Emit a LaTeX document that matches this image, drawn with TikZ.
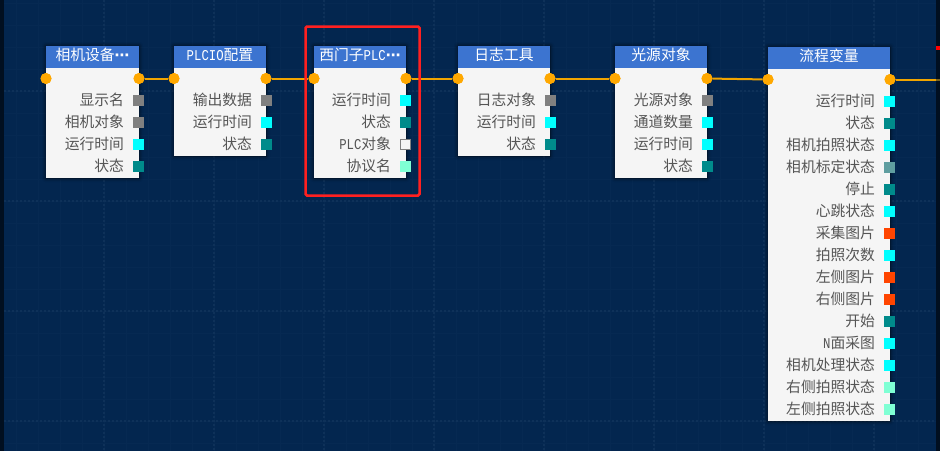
\documentclass[tikz,border=0pt]{standalone}
\usepackage{fontspec}
\setmainfont{Noto Sans CJK SC}
\newfontfamily\latf{Liberation Mono}[FakeStretch=0.82]
\newfontfamily\dotf{DejaVu Sans}[Scale=1.0]
\newcommand{\lat}[1]{{\latf\fontsize{15}{15}\selectfont #1}}
\newcommand{\dotc}{{\dotf\bfseries ⋯}}
\usetikzlibrary{shadows.blur,calc}
\definecolor{bgc}{HTML}{03264F}
\definecolor{gridc}{HTML}{0E3159}
\definecolor{gridm}{HTML}{062952}
\definecolor{hdr}{HTML}{3C74D0}
\definecolor{body}{HTML}{F5F5F5}
\definecolor{pin}{HTML}{FFA800}
\definecolor{wire}{HTML}{F0A400}
\definecolor{wiredim}{HTML}{7A6420}
\definecolor{txt}{HTML}{555555}
\definecolor{pgray}{HTML}{808080}
\definecolor{pcyan}{HTML}{00FFFF}
\definecolor{pteal}{HTML}{008B8B}
\definecolor{pcad}{HTML}{5F9EA0}
\definecolor{porange}{HTML}{FF4500}
\definecolor{paqua}{HTML}{7FFFD4}
\definecolor{frame}{HTML}{FF2020}
\tikzset{
  x=1pt,y=-1pt,
  bodybox/.style={fill=body,draw=none,blur shadow={shadow blur steps=6,shadow xshift=0pt,shadow yshift=0pt,shadow blur radius=4pt,shadow opacity=70}},
  hdrbox/.style={fill=hdr,draw=none},
  title/.style={text=white,font=\fontsize{14.8}{15}\selectfont,inner sep=0pt},
  lab/.style={text=txt,font=\fontsize{14.8}{15}\selectfont,inner sep=0pt,anchor=east},
  pinc/.style={circle,fill=pin,draw=none,minimum size=11pt,inner sep=0pt},
  port/.style={minimum size=11pt,inner sep=0pt,draw=none,fill=#1},
  wireline/.style={draw=wire,line width=2pt},
}
% #1 name, #2 left, #3 right, #4 top, #5 bottom, #6 title
\newcommand{\blk}[6]{%
  \path[bodybox] (#2,#4) rectangle (#3,#5);
  \path[hdrbox] (#2,#4) rectangle (#3,#4+22);
  \node[title,anchor=base] (#1t) at ({(#2+#3)/2},#4+14.5) {#6};
  \node[pinc] (#1i) at (#2,#4+32.5) {};
  \node[pinc] (#1o) at (#3,#4+32.5) {};
}
% #1 node name suffix, #2 right, #3 y, #4 colour, #5 text
\newcommand{\rowp}[5]{%
  \node[port=#4] (#1p) at (#2+0,#3) {};
  \node[lab,anchor=base east] (#1l) at (#2-14.3,#3+4.6) {#5};
}
\begin{document}
\begin{tikzpicture}
\useasboundingbox (0,0) rectangle (940,451);
\fill[bgc] (0,0) rectangle (940,451);
% grid
\foreach \gx in {16,38,...,940}
  \draw[gridm,line width=1pt] (\gx,0) -- (\gx,451);
\foreach \gy in {3,25,...,451}
  \draw[gridm,line width=1pt] (0,\gy) -- (940,\gy);
\foreach \gx in {104,214,324,434,544,654,764,874}
  \draw[gridc,line width=1.5pt,dash pattern=on 2pt off 2pt] (\gx,0) -- (\gx,451);
\foreach \gy in {91,201,311,421}
  \draw[gridc,line width=1.5pt,dash pattern=on 2pt off 2pt] (0,\gy) -- (940,\gy);
\fill[black!60!bgc] (0,0) rectangle (4,451);
\fill[black!60!bgc] (936,0) rectangle (940,451);
\coordinate (edgea) at (936,79.5);
\coordinate (edgeb) at (940,79.5);
% blocks
\blk{a}{46}{139}{46}{178}{相机设备\dotc}
\blk{b}{174}{266}{46}{156}{\lat{PLCIO}配置}
\blk{c}{314}{406}{46}{178}{西门子\lat{PLC}\dotc}
\blk{d}{458}{550}{46}{156}{日志工具}
\blk{e}{615}{707}{46}{178}{光源对象}
\blk{f}{768}{890}{47}{421}{流程变量}
% wires
\draw[wireline] (ao) -- (bi);
\draw[wireline] (bo) -- (ci);
\draw[wireline] (co) -- (di);
\draw[wireline] (do) -- (ei);
\draw[wireline] (eo) -- (fi);
\draw[wireline] (fo) -- (edgea);
\draw[wireline,draw=wiredim] (edgea) -- (edgeb);
% re-draw pins over wires
\foreach \n in {ai,ao,bi,bo,ci,co,di,do,ei,eo,fi,fo}
  \node[pinc] at (\n) {};
% rows
\rowp{a1}{138.5}{100.5}{pgray}{显示名}
\rowp{a2}{138.5}{122.5}{pgray}{相机对象}
\rowp{a3}{138.5}{144.5}{pcyan}{运行时间}
\rowp{a4}{138.5}{166.5}{pteal}{状态}
\rowp{b1}{266.5}{100.5}{pgray}{输出数据}
\rowp{b2}{266.5}{122.5}{pcyan}{运行时间}
\rowp{b3}{266.5}{144.5}{pteal}{状态}
\rowp{c1}{405.5}{100.5}{pcyan}{运行时间}
\rowp{c2}{405.5}{122.5}{pteal}{状态}
\node[minimum size=10pt,inner sep=0pt,draw=pgray,line width=1pt,fill=body] (c3p) at (405.5,144.5) {};
\node[lab,anchor=base east] (c3l) at (391.2,149.1) {\lat{PLC}对象};
\rowp{c4}{405.5}{166.5}{paqua}{协议名}
\rowp{d1}{550.5}{100.5}{pgray}{日志对象}
\rowp{d2}{550.5}{122.5}{pcyan}{运行时间}
\rowp{d3}{550.5}{144.5}{pteal}{状态}
\rowp{e1}{707.5}{100.5}{pgray}{光源对象}
\rowp{e2}{707.5}{122.5}{pcyan}{通道数量}
\rowp{e3}{707.5}{144.5}{pcyan}{运行时间}
\rowp{e4}{707.5}{166.5}{pteal}{状态}
\rowp{f01}{889.5}{101.5}{pcyan}{运行时间}
\rowp{f02}{889.5}{123.5}{pteal}{状态}
\rowp{f03}{889.5}{145.5}{pcyan}{相机拍照状态}
\rowp{f04}{889.5}{167.5}{pcad}{相机标定状态}
\rowp{f05}{889.5}{189.5}{pteal}{停止}
\rowp{f06}{889.5}{211.5}{pcyan}{心跳状态}
\rowp{f07}{889.5}{233.5}{porange}{采集图片}
\rowp{f08}{889.5}{255.5}{pcyan}{拍照次数}
\rowp{f09}{889.5}{277.5}{porange}{左侧图片}
\rowp{f10}{889.5}{299.5}{porange}{右侧图片}
\rowp{f11}{889.5}{321.5}{pteal}{开始}
\rowp{f12}{889.5}{343.5}{pcyan}{\lat{N}面采图}
\rowp{f13}{889.5}{365.5}{pcyan}{相机处理状态}
\rowp{f14}{889.5}{387.5}{paqua}{右侧拍照状态}
\rowp{f15}{889.5}{409.5}{paqua}{左侧拍照状态}
% selection frame
\draw[frame,line width=2.5pt,rounded corners=1.5pt] (305.5,26.5) rectangle (419.5,195.5);
% off-canvas marker
\fill[red] (936,46) rectangle (940,50);
\end{tikzpicture}
\end{document}
